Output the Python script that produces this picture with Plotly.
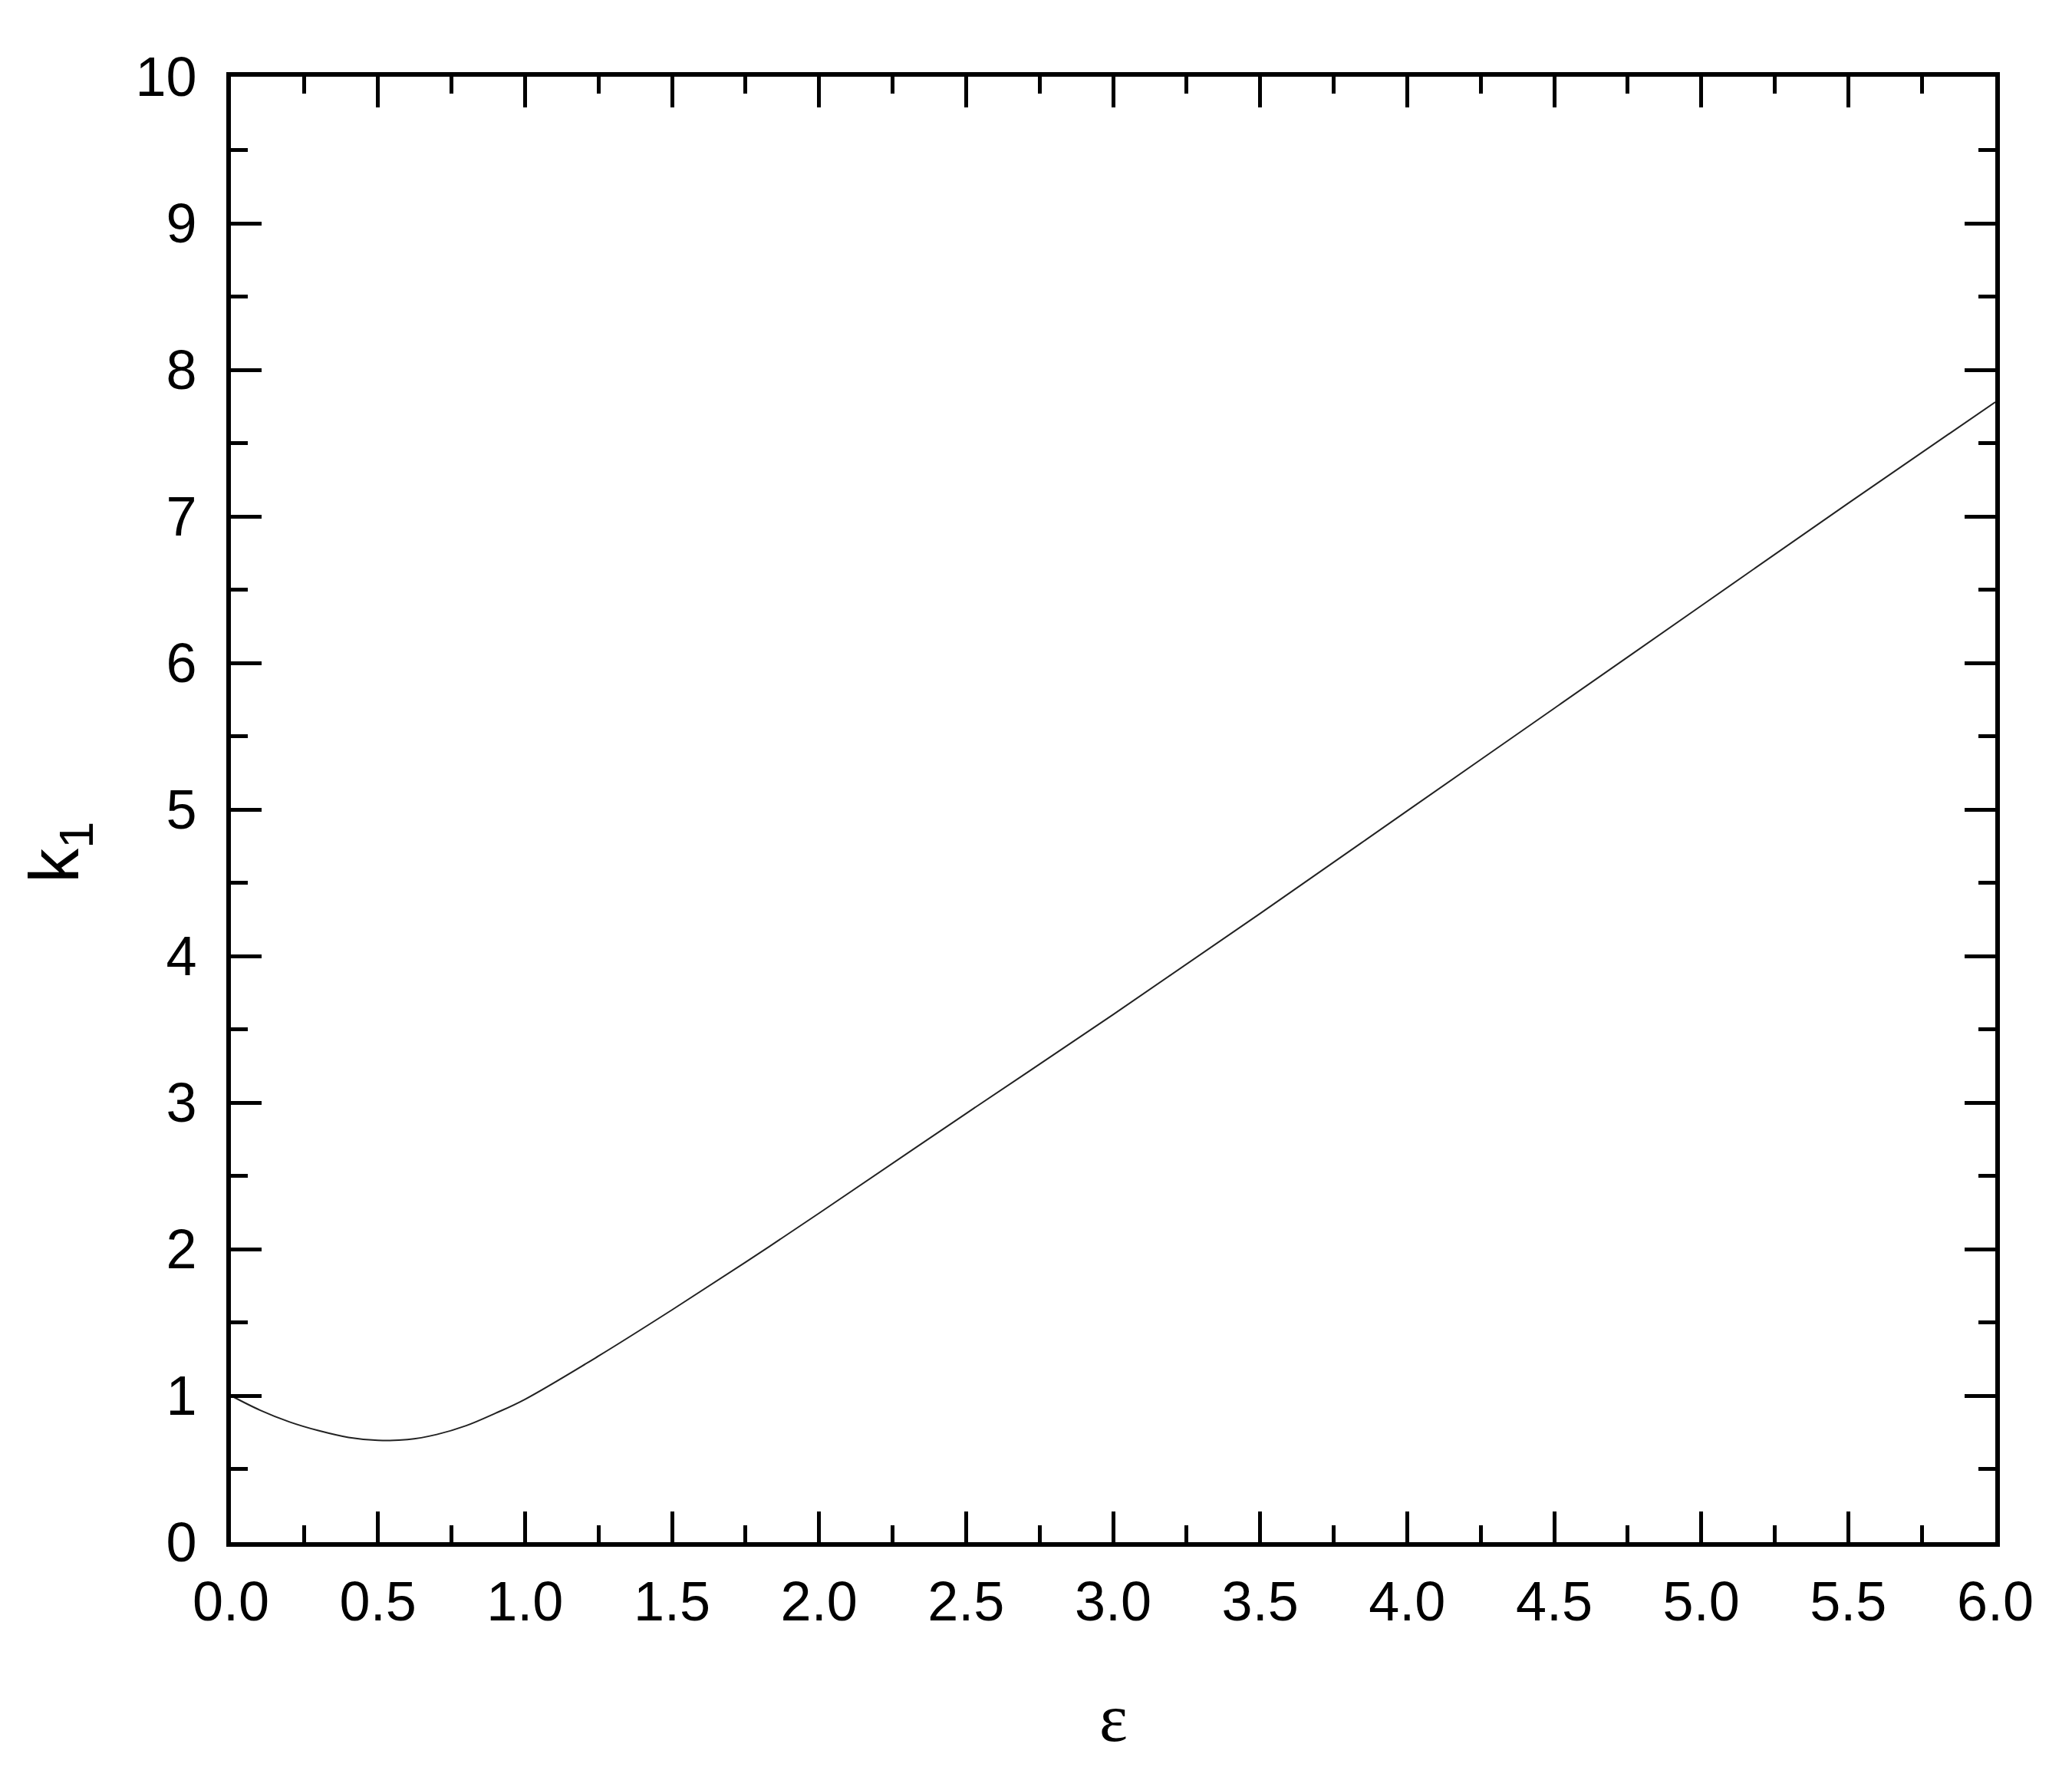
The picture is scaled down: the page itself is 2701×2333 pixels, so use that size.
import plotly.graph_objects as go

# values
EPSILON = [0.0, 0.1, 0.2, 0.3, 0.4, 0.5, 0.6, 0.7, 0.8, 0.9, 1.0,
           1.25, 1.5, 1.75, 2.0, 2.5, 3.0, 3.5, 4.0, 4.5, 5.0, 5.5, 6.0]
K1 = [1.0, 0.90, 0.82, 0.76, 0.715, 0.695, 0.70, 0.735, 0.795, 0.88, 0.975,
      1.27, 1.585, 1.91, 2.245, 2.925, 3.60, 4.29, 4.99, 5.69, 6.39, 7.09, 7.78]

X_TICKS = [0.0, 0.5, 1.0, 1.5, 2.0, 2.5, 3.0, 3.5, 4.0, 4.5, 5.0, 5.5, 6.0]
Y_TICKS = list(range(0, 11))

AXIS_FONT = "Arial, Liberation Sans, sans-serif"

fig = go.Figure(go.Scatter(
    x=EPSILON, y=K1,
    mode="lines",
    line=dict(color="#222222", width=2, shape="spline", smoothing=1.0),
    showlegend=False,
))

axis_common = dict(
    showline=True, linecolor="black", linewidth=6, mirror="allticks",
    ticks="inside", ticklen=40, tickwidth=5, tickcolor="black",
    showgrid=False, zeroline=False,
    tickfont=dict(family=AXIS_FONT, size=72, color="black"),
)

fig.update_xaxes(
    range=[0, 6], tickvals=X_TICKS, tickformat=".1f", ticklabelstandoff=10,
    minor=dict(dtick=0.25, ticks="inside", ticklen=22, tickwidth=5, tickcolor="black"),
    **axis_common,
)
fig.update_yaxes(
    range=[0, 10], tickvals=Y_TICKS, ticklabelstandoff=24,
    minor=dict(dtick=0.5, ticks="inside", ticklen=22, tickwidth=5, tickcolor="black"),
    **axis_common,
)

fig.add_annotation(
    text="ε", xref="paper", yref="paper", x=0.5, y=-0.12,
    xanchor="center", yanchor="middle", showarrow=False,
    font=dict(family="Liberation Serif, Times New Roman, serif", size=88, color="black"),
)
fig.add_annotation(
    text="k<sub>1</sub>", xref="paper", yref="paper", x=-0.097, y=0.4707,
    xanchor="center", yanchor="middle", showarrow=False, textangle=-90,
    font=dict(family=AXIS_FONT, size=90, color="black"),
)

# page body adds an 8px offset, so the figure is 8px smaller on each axis
fig.update_layout(
    width=2693, height=2325,
    margin=dict(l=293, r=100, t=92, b=323),
    paper_bgcolor="white", plot_bgcolor="white",
)

fig.write_html("out.html")
